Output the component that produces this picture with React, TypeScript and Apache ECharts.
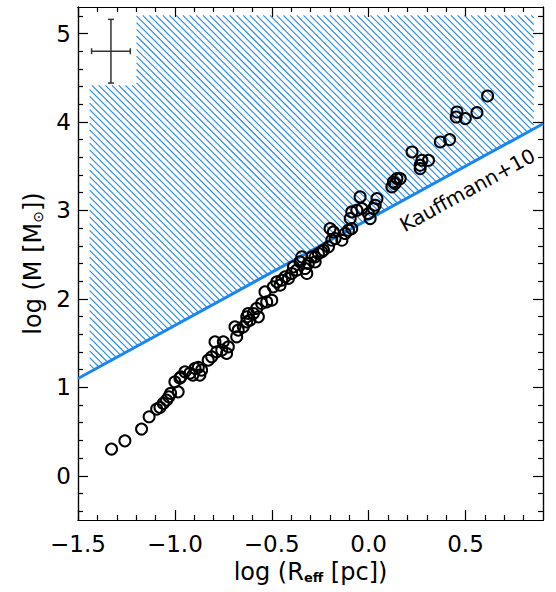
import React, { useEffect, useRef } from "react";
import * as echarts from "echarts";

// log R_eff [pc]
const xData = [
  -1.327, -1.258, -1.172, -1.133, -1.094, -1.077, -1.06, -1.043, -1.031, -1.022,
  -0.983, -1.0, -0.969, -0.922, -0.907, -0.974, -0.948, -0.896, -0.879, -0.862,
  -0.871, -0.828, -0.81, -0.793, -0.784, -0.758, -0.75, -0.733, -0.724, -0.681,
  -0.673, -0.647, -0.629, -0.621, -0.69, -0.629, -0.612, -0.595, -0.578, -0.569,
  -0.552, -0.535, -0.526, -0.5, -0.492, -0.474, -0.457, -0.448, -0.431, -0.414,
  -0.397, -0.388, -0.371, -0.354, -0.345, -0.328, -0.311, -0.319, -0.293, -0.276,
  -0.259, -0.242, -0.276, -0.233, -0.207, -0.19, -0.199, -0.182, -0.173, -0.138,
  -0.121, -0.104, -0.087, -0.095, -0.087, -0.061, -0.044, -0.035, -0.001, 0.008,
  0.025, 0.034, 0.043, 0.12, 0.137, 0.163, 0.128, 0.146, 0.224, 0.266,
  0.275, 0.309, 0.266, 0.37, 0.418, 0.456, 0.452, 0.499, 0.559, 0.614,
];
// log M [Msun]
const yData = [
  0.302, 0.395, 0.528, 0.667, 0.754, 0.773, 0.818, 0.855, 0.893, 0.931,
  0.949, 1.062, 1.119, 1.16, 1.138, 1.104, 1.175, 1.214, 1.225, 1.194,
  1.138, 1.307, 1.345, 1.514, 1.401, 1.42, 1.514, 1.383, 1.458, 1.571,
  1.646, 1.684, 1.74, 1.835, 1.684, 1.797, 1.759, 1.835, 1.892, 1.797,
  1.948, 2.079, 1.966, 1.985, 2.136, 2.192, 2.155, 2.211, 2.249, 2.231,
  2.287, 2.362, 2.324, 2.418, 2.475, 2.343, 2.4, 2.287, 2.475, 2.418,
  2.513, 2.531, 2.475, 2.55, 2.588, 2.663, 2.795, 2.757, 2.682, 2.663,
  2.739, 2.776, 2.795, 2.908, 2.983, 3.002, 3.153, 3.021, 2.965, 2.908,
  3.021, 3.059, 3.134, 3.266, 3.304, 3.36, 3.322, 3.36, 3.661, 3.511,
  3.567, 3.567, 3.473, 3.774, 3.801, 4.113, 4.056, 4.038, 4.106, 4.294,
];

// Kauffmann+10 threshold line
const kauffX = [-1.5, 0.9];
const kauffY = [1.1, 3.98];
const kauffLabel = ["Kauffmann+10"];
const kauffLabelX = [0.51];
const kauffLabelY = [3.23];

// hatched region bounds (data units)
const hatchLeft = -1.44;
const hatchRight = 0.852;
const hatchNotchX = -1.198;
const hatchTop = 5.205;
const hatchNotchTop = 4.415;

// typical error bar
const errX = [-1.33];
const errY = [4.8];
const errDX = [0.1];
const errDY = [0.36];

// ticks
const xMajor = [-1.5, -1.0, -0.5, 0.0, 0.5];
const xMinor = [
  -1.4, -1.3, -1.2, -1.1, -0.9, -0.8, -0.7, -0.6, -0.4, -0.3, -0.2, -0.1,
  0.1, 0.2, 0.3, 0.4, 0.6, 0.7, 0.8,
];
const yMajor = [0, 1, 2, 3, 4, 5];
const yMinor = [
  -0.4, -0.2, 0.2, 0.4, 0.6, 0.8, 1.2, 1.4, 1.6, 1.8, 2.2, 2.4, 2.6, 2.8,
  3.2, 3.4, 3.6, 3.8, 4.2, 4.4, 4.6, 4.8, 5.2,
];

const FONT = "DejaVu Sans";
const FW = "normal";
const BLUE = "#1a87f0";
const HATCH = "#1f88ee";

export default function App() {
  const ref = useRef<HTMLDivElement>(null);

  useEffect(() => {
    if (!ref.current) return;
    const chart = echarts.init(ref.current, undefined, { renderer: "svg" });

    const axisLine = { show: true, onZero: false, lineStyle: { color: "#000", width: 1.2 } };
    const mkX = (pos: string, major: boolean, label: boolean) => ({
      type: "value",
      min: -1.5,
      max: 0.9,
      position: pos,
      axisLine,
      splitLine: { show: false },
      axisTick: {
        show: true,
        inside: true,
        length: major ? 10 : 5,
        customValues: major ? xMajor : xMinor,
        lineStyle: { color: "#000", width: 1.2 },
      },
      axisLabel: label
        ? {
            show: true,
            customValues: xMajor,
            formatter: (v: number) => v.toFixed(1).replace("-", "\u2212"),
            fontFamily: FONT,
            fontWeight: FW,
            fontSize: 23,
            color: "#000",
            margin: 12,
          }
        : { show: false },
      ...(label
        ? {
            name: "{a|log (R}{b|eff}{a| [pc])}",
            nameLocation: "middle",
            nameGap: 40,
            nameTextStyle: {
              fontFamily: FONT,
              fontSize: 24,
              color: "#000",
              rich: {
                a: { fontFamily: FONT, fontWeight: FW, fontSize: 24, color: "#000" },
                b: {
                  fontFamily: FONT,
                  fontSize: 13,
                  fontWeight: "bold",
                  color: "#000",
                  verticalAlign: "bottom",
                },
              },
            },
          }
        : {}),
    });
    const mkY = (pos: string, major: boolean, label: boolean) => ({
      type: "value",
      min: -0.5,
      max: 5.3,
      position: pos,
      axisLine,
      splitLine: { show: false },
      axisTick: {
        show: true,
        inside: true,
        length: major ? 10 : 5,
        customValues: major ? yMajor : yMinor,
        lineStyle: { color: "#000", width: 1.2 },
      },
      axisLabel: label
        ? {
            show: true,
            customValues: yMajor,
            formatter: (v: number) => String(v),
            fontFamily: FONT,
            fontWeight: FW,
            fontSize: 23,
            color: "#000",
            margin: 7,
          }
        : { show: false },
      ...(label
        ? {
            name: "{a|log (M [M}{b|\u2299}{a|])}",
            nameLocation: "middle",
            nameGap: 32,
            nameTextStyle: {
              fontFamily: FONT,
              fontSize: 24,
              color: "#000",
              rich: {
                a: { fontFamily: FONT, fontWeight: FW, fontSize: 24, color: "#000" },
                b: {
                  fontFamily: FONT,
                  fontWeight: FW,
                  fontSize: 14,
                  color: "#000",
                  verticalAlign: "bottom",
                },
              },
            },
          }
        : {}),
    });

    const option: any = {
      animation: false,
      backgroundColor: "#fff",
      grid: { left: 78, right: 13, top: 7, bottom: 72, containLabel: false },
      xAxis: [
        mkX("bottom", true, true),
        mkX("bottom", false, false),
        mkX("top", true, false),
        mkX("top", false, false),
      ],
      yAxis: [
        mkY("left", true, true),
        mkY("left", false, false),
        mkY("right", true, false),
        mkY("right", false, false),
      ],
      series: [
        {
          type: "custom",
          name: "hatch",
          xAxisIndex: 0,
          yAxisIndex: 0,
          z: 1,
          silent: true,
          clip: false,
          data: [[hatchLeft, hatchTop]],
          encode: { x: 0, y: 1 },
          renderItem: (_params: any, api: any) => {
            const xl = api.coord([hatchLeft, 0])[0];
            const xr = api.coord([hatchRight, 0])[0];
            const xn = api.coord([hatchNotchX, 0])[0];
            const T1 = api.coord([0, hatchNotchTop])[1];
            const T2 = api.coord([0, hatchTop])[1];
            const p0 = api.coord([kauffX[0], kauffY[0]]);
            const p1 = api.coord([kauffX[1], kauffY[1]]);
            const b = (p1[1] - p0[1]) / (p1[0] - p0[0]);
            const a = p0[1] - b * p0[0];
            const spacing = 6.7;
            const yBottomMax = a + b * xl;
            const cMin = xl - yBottomMax - spacing;
            const cMax = xr - T2 + spacing;
            const children: any[] = [];
            for (let c = Math.floor(cMin / spacing) * spacing; c <= cMax; c += spacing) {
              let start = c + T1 < xn ? c + T1 : Math.max(xn, c + T2);
              start = Math.max(start, xl);
              let end = (a + c) / (1 - b);
              end = Math.min(end, xr);
              if (end > start + 0.3) {
                children.push({
                  type: "line",
                  shape: { x1: start, y1: start - c, x2: end, y2: end - c },
                  style: { stroke: HATCH, lineWidth: 1.1 },
                });
              }
            }
            return { type: "group", children };
          },
        },
        {
          type: "line",
          name: "Kauffmann+10",
          xAxisIndex: 0,
          yAxisIndex: 0,
          z: 2,
          data: kauffX.map((x, i) => [x, kauffY[i]]),
          showSymbol: false,
          symbol: "none",
          lineStyle: { color: BLUE, width: 3 },
          silent: true,
        },
        {
          type: "custom",
          name: "label",
          xAxisIndex: 0,
          yAxisIndex: 0,
          z: 4,
          silent: true,
          clip: false,
          data: kauffLabelX.map((x, i) => [x, kauffLabelY[i]]),
          encode: { x: 0, y: 1 },
          renderItem: (params: any, api: any) => {
            const p = api.coord([api.value(0), api.value(1)]);
            const p0 = api.coord([kauffX[0], kauffY[0]]);
            const p1 = api.coord([kauffX[1], kauffY[1]]);
            const ang = Math.atan2(-(p1[1] - p0[1]), p1[0] - p0[0]);
            return {
              type: "text",
              x: p[0],
              y: p[1],
              rotation: ang,
              style: {
                text: kauffLabel[params.dataIndex],
                x: 0,
                y: 0,
                align: "center",
                verticalAlign: "middle",
                fontFamily: FONT,
                fontWeight: FW,
                fontSize: 20,
                fill: "#000",
              },
            };
          },
        },
        {
          type: "custom",
          name: "error",
          xAxisIndex: 0,
          yAxisIndex: 0,
          z: 4,
          silent: true,
          clip: false,
          data: errX.map((x, i) => [x, errY[i], errDX[i], errDY[i]]),
          encode: { x: 0, y: 1 },
          renderItem: (_params: any, api: any) => {
            const x = api.value(0);
            const y = api.value(1);
            const dx = api.value(2);
            const dy = api.value(3);
            const l = api.coord([x - dx, y]);
            const r = api.coord([x + dx, y]);
            const t = api.coord([x, y + dy]);
            const bt = api.coord([x, y - dy]);
            const cap = 3;
            const st = { stroke: "#333", lineWidth: 1.5 };
            return {
              type: "group",
              children: [
                { type: "line", shape: { x1: l[0], y1: l[1], x2: r[0], y2: r[1] }, style: st },
                { type: "line", shape: { x1: t[0], y1: t[1], x2: bt[0], y2: bt[1] }, style: st },
                { type: "line", shape: { x1: l[0], y1: l[1] - cap, x2: l[0], y2: l[1] + cap }, style: st },
                { type: "line", shape: { x1: r[0], y1: r[1] - cap, x2: r[0], y2: r[1] + cap }, style: st },
                { type: "line", shape: { x1: t[0] - cap, y1: t[1], x2: t[0] + cap, y2: t[1] }, style: st },
                { type: "line", shape: { x1: bt[0] - cap, y1: bt[1], x2: bt[0] + cap, y2: bt[1] }, style: st },
              ],
            };
          },
        },
        {
          type: "scatter",
          name: "clumps",
          xAxisIndex: 0,
          yAxisIndex: 0,
          z: 3,
          data: xData.map((x, i) => [x, yData[i]]),
          symbol: "circle",
          symbolSize: 11,
          itemStyle: {
            color: "rgba(0,0,0,0)",
            borderColor: "#000",
            borderWidth: 2,
            opacity: 1,
          },
          silent: true,
        },
      ],
    };

    chart.setOption(option);
    return () => {
      chart.dispose();
    };
  }, []);

  return (
    <div
      ref={ref}
      style={{ position: "absolute", left: 0, top: 0, width: 556, height: 592, background: "#fff" }}
    />
  );
}
